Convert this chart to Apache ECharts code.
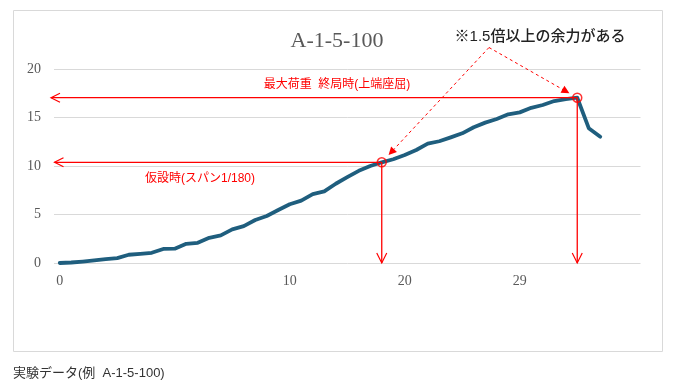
<!DOCTYPE html>
<html><head><meta charset="utf-8">
<script src="https://cdn.jsdelivr.net/npm/echarts@6/dist/echarts.min.js"></script>
<style>html,body{margin:0;padding:0;background:#fff}#c{width:675px;height:387px}</style>
</head><body><div id="c"></div>
<script>
// category labels (51 slots, only some labelled)
const xLabels = ['0','','','','','','','','','','','','','','','','','','','',
  '10','','','','','','','','','',
  '20','','','','','','','','','',
  '29','','','','','','','','','',''];
// load values
const loadValues = [0,0.05,0.15,0.27,0.4,0.5,0.85,0.95,1.05,1.45,1.48,1.98,2.08,2.6,2.85,3.47,3.8,4.43,4.85,5.46,
  6.05,6.43,7.1,7.38,8.17,8.85,9.5,10.0,10.38,10.7,11.13,11.65,12.3,12.55,12.95,13.37,14.0,14.47,14.85,15.33,
  15.53,16.0,16.29,16.7,16.9,17.04,13.9,13.02];
const yMin = 0, yMax = 20, yStep = 5;
// key points: temporary (span 1/180) and ultimate max load
const keyIdx = [28, 45];
const keyLabels = ['仮設時(スパン1/180)', '最大荷重  終局時(上端座屈)'];
const titleText = 'A-1-5-100';
const noteText = '※1.5倍以上の余力がある';
const captionText = '実験データ(例  A-1-5-100)';

const chart = echarts.init(document.getElementById('c'));
const serif = '"Liberation Serif","DejaVu Serif",serif';
const sans = '"Liberation Sans","Noto Sans CJK JP",sans-serif';
chart.setOption({
  animation: false,
  grid: {left: 54, right: 34.5, top: 69, bottom: 124},
  xAxis: {
    type: 'category', data: xLabels, boundaryGap: true,
    axisLine: {show: false}, axisTick: {show: false},
    axisLabel: {interval: 0, margin: 11, color: '#595959', fontFamily: serif, fontSize: 14}
  },
  yAxis: {
    type: 'value', min: yMin, max: yMax, interval: yStep,
    axisLine: {show: false}, axisTick: {show: false},
    splitLine: {lineStyle: {color: '#d9d9d9', width: 1}},
    axisLabel: {margin: 13, color: '#595959', fontFamily: serif, fontSize: 14}
  },
  series: [{
    type: 'line', data: loadValues, symbol: 'none',
    lineStyle: {color: '#1f5e7e', width: 3.8, cap: 'round', join: 'round'}, z: 3
  }, {
    type: 'scatter', data: keyIdx.map(i => [i, loadValues[i]]),
    symbol: 'circle', symbolSize: 9,
    itemStyle: {color: 'rgba(0,0,0,0)', borderColor: '#ff0000', borderWidth: 1.5}, z: 5
  }]
});

const red = '#ff0000';
const g = [];
// chart border
g.push({type: 'rect', shape: {x: 13.5, y: 10.5, width: 649, height: 341}, style: {fill: null, stroke: '#d9d9d9', lineWidth: 1}, z: 0, silent: true});
// title, note, caption
g.push({type: 'text', x: 337, y: 41, style: {text: titleText, font: '22px ' + serif, fill: '#595959', textAlign: 'center', textVerticalAlign: 'middle'}});
g.push({type: 'text', x: 540, y: 37, style: {text: noteText, font: '500 15px ' + sans, fill: '#222', textAlign: 'center', textVerticalAlign: 'middle'}});
g.push({type: 'text', x: 13, y: 373, style: {text: captionText, font: '13px ' + sans, fill: '#333', textAlign: 'left', textVerticalAlign: 'middle'}});

const base = chart.convertToPixel({seriesIndex: 0}, [0, 0]);
const tipXs = [54.5, 51];
const labelPos = [[200, 179], [337, 85]];
keyIdx.forEach((idx, k) => {
  const p = chart.convertToPixel({seriesIndex: 0}, [idx, loadValues[idx]]);
  const tx = tipXs[k];
  g.push({type: 'line', shape: {x1: p[0], y1: p[1], x2: tx, y2: p[1]}, style: {stroke: red, lineWidth: 1.3}, z: 10});
  g.push({type: 'polyline', shape: {points: [[tx + 9, p[1] - 4.5], [tx, p[1]], [tx + 9, p[1] + 4.5]]}, style: {stroke: red, lineWidth: 1.2, fill: null}, z: 10});
  g.push({type: 'line', shape: {x1: p[0], y1: p[1], x2: p[0], y2: base[1]}, style: {stroke: red, lineWidth: 1.3}, z: 10});
  g.push({type: 'polyline', shape: {points: [[p[0] - 5, base[1] - 10], [p[0], base[1]], [p[0] + 5, base[1] - 10]]}, style: {stroke: red, lineWidth: 1.2, fill: null}, z: 10});
  g.push({type: 'text', x: labelPos[k][0], y: labelPos[k][1], style: {text: keyLabels[k], font: '12px ' + sans, fill: red, textAlign: 'center', textVerticalAlign: 'middle'}, z: 10});
  const apex = [489, 47.5];
  const dx = p[0] - apex[0], dy = p[1] - apex[1];
  const L = Math.sqrt(dx * dx + dy * dy);
  const ux = dx / L, uy = dy / L;
  const endD = k === 0 ? 10 : 9;
  const ex = p[0] - ux * endD, ey = p[1] - uy * endD;
  g.push({type: 'line', shape: {x1: apex[0], y1: apex[1], x2: ex - ux * 6, y2: ey - uy * 6}, style: {stroke: red, lineWidth: 1, lineDash: [3, 3]}, z: 10});
  const bx = ex - ux * 8, by = ey - uy * 8;
  g.push({type: 'polygon', shape: {points: [[ex, ey], [bx - uy * 4, by + ux * 4], [bx + uy * 4, by - ux * 4]]}, style: {fill: red}, z: 10});
});
chart.setOption({graphic: g});
</script></body></html>
